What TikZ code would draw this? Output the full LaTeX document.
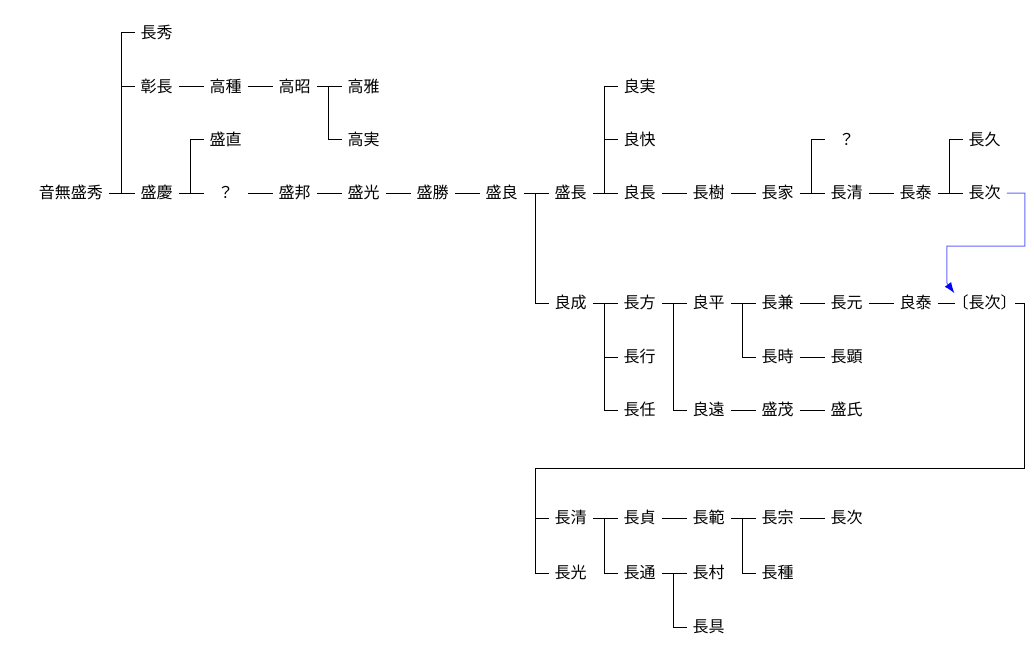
\documentclass[tikz,border=0pt]{standalone}
\usepackage{fontspec}
\newfontfamily\jpfont{Noto Sans CJK JP}
\usetikzlibrary{arrows.meta}
\definecolor{linkblue}{RGB}{100,100,255}

\begin{document}
\begin{tikzpicture}[
    x=1bp, y=-1bp,
    person/.style={font=\jpfont\fontsize{16bp}{18bp}\selectfont, minimum width=44bp,
        inner xsep=6bp, inner ysep=2bp, text height=13bp, text depth=2bp},
    kin/.style={draw=black, line width=1bp},
    xref/.style={draw=linkblue, line width=1bp, -{Latex[length=11bp,width=8bp,color=blue]}}
]
\fill[white] (0,0) rectangle (1034,667);

% first generations
\node[person,anchor=east] (D0) at (109,193) {音無盛秀};
\node[person] (A1) at (156.7,33) {長秀};
\node[person] (B1) at (156.7,87) {彰長};
\node[person] (D1) at (156.7,193) {盛慶};
\node[person] (B2) at (225.7,87) {高種};
\node[person] (B3) at (294.7,87) {高昭};
\node[person] (B4) at (363.7,87) {高雅};
\node[person] (C4) at (363.7,140) {高実};
\node[person] (C2) at (225.7,140) {盛直};
\node[person] (D2) at (225.7,193) {？};
\node[person] (D3) at (294.7,193) {盛邦};
\node[person] (D4) at (363.7,193) {盛光};
\node[person] (D5) at (432.7,193) {盛勝};
\node[person] (D6) at (501.7,193) {盛良};

\draw[kin] (D0) -- (D1);
\draw[kin] (A1.west) -- ++(-13,0) |- (D1.west);
\draw[kin] (B1.west) -- ++(-13,0);
\draw[kin] (B1) -- (B2) -- (B3) -- (B4);
\draw[kin] (C4.west) -- ++(-13,0) |- (B4.west);
\draw[kin] (D1) -- (D2);
\draw[kin] (C2.west) -- ++(-13,0) |- (D2.west);
\draw[kin] (D2) -- (D3) -- (D4) -- (D5) -- (D6);

% Morinaga line
\node[person] (D7) at (570.7,193) {盛長};
\node[person] (B8) at (639.7,87) {良実};
\node[person] (C8) at (639.7,140) {良快};
\node[person] (D8) at (639.7,193) {良長};
\node[person] (D9) at (708.7,193) {長樹};
\node[person] (D10) at (777.7,193) {長家};
\node[person] (C11) at (846.7,140) {？};
\node[person] (D11) at (846.7,193) {長清};
\node[person] (D12) at (915.7,193) {長泰};
\node[person] (C13) at (984.7,140) {長久};
\node[person] (D13) at (984.7,193) {長次};

\draw[kin] (D6) -- (D7) -- (D8) -- (D9) -- (D10) -- (D11) -- (D12) -- (D13);
\draw[kin] (B8.west) -- ++(-13,0) |- (D8.west);
\draw[kin] (C8.west) -- ++(-13,0);
\draw[kin] (C11.west) -- ++(-13,0) |- (D11.west);
\draw[kin] (C13.west) -- ++(-13,0) |- (D13.west);

% Yoshinari line
\node[person] (E7) at (570.7,303) {良成};
\node[person] (E8) at (639.7,303) {長方};
\node[person] (F8) at (639.7,357) {長行};
\node[person] (G8) at (639.7,410) {長任};
\node[person] (E9) at (708.7,303) {良平};
\node[person] (G9) at (708.7,410) {良遠};
\node[person] (E10) at (777.7,303) {長兼};
\node[person] (F10) at (777.7,357) {長時};
\node[person] (G10) at (777.7,410) {盛茂};
\node[person] (E11) at (846.7,303) {長元};
\node[person] (F11) at (846.7,357) {長顕};
\node[person] (G11) at (846.7,410) {盛氏};
\node[person] (E12) at (915.7,303) {良泰};
\node[person] (E13) at (984.7,303) {\kern-8bp〔長次〕\kern-8bp};

\draw[kin] (E7.west) -- ++(-13,0) |- (D7.west);
\draw[kin] (E7) -- (E8) -- (E9) -- (E10) -- (E11) -- (E12) -- (E13);
\draw[kin] (G8.west) -- ++(-13,0) |- (E8.west);
\draw[kin] (F8.west) -- ++(-13,0);
\draw[kin] (G9.west) -- ++(-13,0) |- (E9.west);
\draw[kin] (F10.west) -- ++(-13,0) |- (E10.west);
\draw[kin] (F10) -- (F11);
\draw[kin] (G9) -- (G10) -- (G11);

% cross reference
\draw[xref] (D13.east) -- ++(18,0) -- ++(0,53) -- ++(-78,0) -- ++(0,37) -- (E13.north west);

% continuation
\coordinate (H) at (535.7,468);
\node[person] (I7) at (570.7,518) {長清};
\node[person] (J7) at (570.7,573) {長光};
\node[person] (I8) at (639.7,518) {長貞};
\node[person] (J8) at (639.7,573) {長通};
\node[person] (I9) at (708.7,518) {長範};
\node[person] (J9) at (708.7,573) {長村};
\node[person] (K9) at (708.7,627) {長具};
\node[person] (I10) at (777.7,518) {長宗};
\node[person] (J10) at (777.7,573) {長種};
\node[person] (I11) at (846.7,518) {長次};

\draw[kin] (E13.east) -- ++(10,0) |- (H) |- (J7.west);
\draw[kin] (I7.west) -- (I7.west -| H);
\draw[kin] (I7) -- (I8) -- (I9) -- (I10) -- (I11);
\draw[kin] (J8.west) -- ++(-13,0) |- (I8.west);
\draw[kin] (J10.west) -- ++(-13,0) |- (I10.west);
\draw[kin] (J8) -- (J9);
\draw[kin] (K9.west) -- ++(-13,0) |- (J9.west);

\end{tikzpicture}
\end{document}
